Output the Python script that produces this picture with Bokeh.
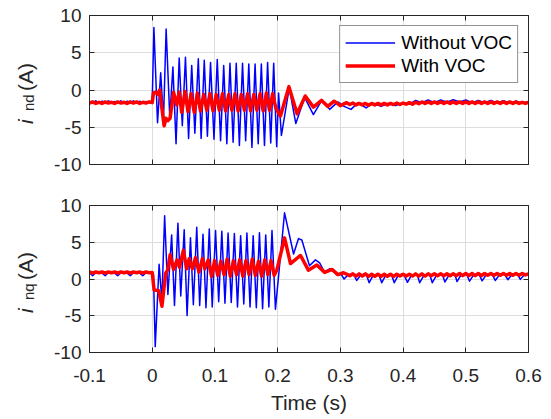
import math
from bokeh.plotting import figure
from bokeh.layouts import column, row
from bokeh.models import FixedTicker, LinearAxis, Range1d, CustomJSTickFormatter
from bokeh.core.properties import value
from bokeh.embed import file_html
from bokeh.resources import INLINE

FONT = "Liberation Sans"
AX = "#262626"
BLUE = "#0000FF"
RED = "#FF0000"
GRID = "#dedede"

# ---------------- data ----------------
series_names = ["Without VOC", "With VOC"]
x_label = "Time (s)"
y_label_main = "i"
y_label_subs = ["nd", "nq"]
y_label_unit = "(A)"
x_ticks = [-0.1, 0, 0.1, 0.2, 0.3, 0.4, 0.5, 0.6]
x_tick_labels = ["-0.1", "0", "0.1", "0.2", "0.3", "0.4", "0.5", "0.6"]
y_ticks = [-10, -5, 0, 5, 10]
y_tick_labels = ["-10", "-5", "0", "5", "10"]

# sampling instants before the event (s)
t_pre = [-0.1, -0.095, -0.09, -0.085, -0.08, -0.075, -0.07, -0.065, -0.06, -0.055,
         -0.05, -0.045, -0.04, -0.035, -0.03, -0.025, -0.02, -0.015, -0.01, -0.005, 0.0]

# i_nd, without VOC
ind_wo_pre = [-1.55, -1.75, -1.45, -1.70, -1.50, -1.80, -1.45, -1.70, -1.55, -1.75,
              -1.45, -1.75, -1.50, -1.70, -1.45, -1.75, -1.50, -1.70, -1.55, -1.70, -1.60]
ind_wo_t = [0.0027, 0.0085, 0.0135, 0.018, 0.0222, 0.028, 0.033, 0.038, 0.043, 0.048,
            0.053, 0.058, 0.063, 0.068, 0.0735, 0.078, 0.083, 0.088, 0.093, 0.0985,
            0.1037, 0.109, 0.114, 0.119, 0.124, 0.129, 0.134, 0.139, 0.144, 0.149,
            0.154, 0.159, 0.164, 0.169, 0.174, 0.179, 0.184, 0.189, 0.1937, 0.1985,
            0.2015, 0.206, 0.2185, 0.229, 0.243, 0.257, 0.271, 0.283, 0.296, 0.306,
            0.317, 0.328, 0.341, 0.352, 0.365, 0.376, 0.388, 0.400, 0.410, 0.420,
            0.430, 0.440, 0.450, 0.460, 0.470, 0.480, 0.490, 0.500, 0.510, 0.520,
            0.530, 0.540, 0.550, 0.560, 0.570, 0.580, 0.590, 0.600]
ind_wo_y = [8.4, -4.4, 2.3, -4.0, 8.2, -3.7, 3.1, -7.2, 4.3, -4.8,
            4.4, -6.5, 3.3, -5.8, 4.2, -6.5, 4.0, -6.2, 3.7, -6.6,
            4.1, -6.8, 3.3, -7.2, 3.6, -7.0, 3.6, -7.45, 3.6, -6.8,
            3.5, -7.7, 3.5, -7.2, 3.5, -7.45, 3.7, -7.1, 3.6, -7.6,
            -0.4, -6.1, 0.3, -4.5, -1.0, -3.3, -1.3, -2.6, -1.6, -2.2,
            -2.6, -1.7, -2.4, -1.8, -2.2, -1.8, -2.1, -1.7, -1.9, -1.4,
            -1.7, -1.35, -1.7, -1.35, -1.65, -1.3, -1.6, -1.35, -1.7, -1.4,
            -1.7, -1.4, -1.75, -1.45, -1.75, -1.5, -1.75, -1.55]

# i_nd, with VOC
ind_w_pre = [-1.75, -1.6, -1.8, -1.65, -1.8, -1.6, -1.75, -1.65, -1.8, -1.6,
             -1.75, -1.65, -1.8, -1.6, -1.75, -1.6, -1.8, -1.65, -1.75, -1.6, -1.7]
ind_w_t = [0.002, 0.006, 0.009, 0.012, 0.0155, 0.019, 0.022, 0.025, 0.0285, 0.034,
           0.039, 0.043, 0.047, 0.0524, 0.057, 0.062, 0.067, 0.072, 0.077, 0.082,
           0.087, 0.092, 0.097, 0.102, 0.107, 0.112, 0.117, 0.122, 0.127, 0.132,
           0.137, 0.142, 0.147, 0.152, 0.157, 0.162, 0.167, 0.172, 0.177, 0.182,
           0.187, 0.192, 0.197, 0.2045, 0.218, 0.231, 0.244, 0.257, 0.27, 0.28,
           0.29, 0.30, 0.31]
ind_w_y = [-0.4, -0.3, -0.6, 0.0, -2.5, -4.8, -3.8, -4.1, -3.8, -0.3,
           -2.0, -0.3, -3.0, -0.2, -2.9, -0.5, -3.0, -0.4, -2.8, -0.6,
           -2.7, -0.5, -2.8, -0.6, -2.7, -0.5, -2.8, -0.6, -2.7, -0.5,
           -2.8, -0.6, -2.7, -0.5, -2.8, -0.6, -2.7, -0.5, -2.8, -0.4,
           -2.7, -0.5, -2.4, -3.5, 0.45, -3.2, -0.8, -2.3, -1.4, -2.2,
           -1.5, -2.1, -1.7]

# sampling instants of the settled tail (s)
t_tail = [0.315, 0.32, 0.325, 0.33, 0.335, 0.34, 0.345, 0.35, 0.355, 0.36,
          0.365, 0.37, 0.375, 0.38, 0.385, 0.39, 0.395, 0.4,
          0.405, 0.41, 0.415, 0.42, 0.425, 0.43, 0.435, 0.44, 0.445, 0.45,
          0.455, 0.46, 0.465, 0.47, 0.475, 0.48, 0.485, 0.49, 0.495, 0.5,
          0.505, 0.51, 0.515, 0.52, 0.525, 0.53, 0.535, 0.54, 0.545, 0.55,
          0.555, 0.56, 0.565, 0.57, 0.575, 0.58, 0.585, 0.59, 0.595, 0.6]
ind_w_tail = [-1.95, -1.75, -2.0, -1.8, -2.0, -1.8, -2.05, -1.8, -2.0, -1.8,
              -2.0, -1.8, -2.0, -1.8, -1.95, -1.75, -1.95, -1.75,
              -1.9, -1.7, -1.9, -1.65, -1.85, -1.6, -1.8, -1.6, -1.8, -1.6,
              -1.8, -1.6, -1.8, -1.6, -1.8, -1.6, -1.8, -1.6, -1.8, -1.6,
              -1.8, -1.6, -1.8, -1.6, -1.8, -1.6, -1.8, -1.6, -1.8, -1.6,
              -1.8, -1.6, -1.8, -1.6, -1.8, -1.6, -1.8, -1.65, -1.8, -1.65]

# i_nq, without VOC
inq_wo_pre = [0.85, 0.45, 0.85, 0.9, 0.8, 0.45, 0.85, 0.9, 0.8, 0.45,
              0.85, 0.9, 0.8, 0.45, 0.85, 0.9, 0.8, 0.45, 0.85, 0.9, 0.9]
inq_wo_t = [0.002, 0.0048, 0.011, 0.0154, 0.0198, 0.025, 0.031, 0.0355, 0.041, 0.0455,
            0.051, 0.0556, 0.061, 0.0656, 0.071, 0.0757, 0.081, 0.0857, 0.091, 0.0957,
            0.101, 0.106, 0.111, 0.116, 0.121, 0.126, 0.131, 0.136, 0.141, 0.146,
            0.151, 0.156, 0.161, 0.166, 0.171, 0.176, 0.181, 0.186, 0.191, 0.1965,
            0.211, 0.2254, 0.2333, 0.2386, 0.2508, 0.2603, 0.267, 0.2746, 0.2835, 0.2957,
            0.300, 0.306,
            0.312, 0.318, 0.322, 0.326, 0.332, 0.338, 0.342, 0.346, 0.352, 0.358,
            0.362, 0.366, 0.372, 0.378, 0.382, 0.386, 0.392, 0.398, 0.402, 0.407,
            0.413, 0.419, 0.423, 0.4265, 0.433, 0.439, 0.443, 0.4466, 0.453, 0.459,
            0.463, 0.4667, 0.473, 0.479, 0.483, 0.486, 0.492, 0.498, 0.502, 0.506,
            0.512, 0.518, 0.522, 0.526, 0.532, 0.538, 0.543, 0.547, 0.553, 0.559,
            0.563, 0.567, 0.573, 0.579, 0.583, 0.587, 0.593, 0.6]
inq_wo_y = [0.6, -9.2, 2.0, -3.0, 8.6, -2.1, 6.0, -3.6, 7.6, -2.3,
            6.7, -4.95, 5.6, -3.5, 7.05, -3.6, 6.1, -3.9, 6.8, -3.8,
            6.6, -3.1, 6.5, -3.3, 6.25, -3.2, 6.2, -3.8, 5.9, -3.4,
            6.25, -3.8, 5.9, -3.9, 6.3, -4.05, 6.0, -3.8, 6.6, -4.1,
            9.0, 3.4, 5.5, 5.3, 1.8, 2.6, 2.2, 0.95, 1.4, 0.5,
            0.8, 0.0,
            0.55, 0.7, 0.5, -0.2, 0.5, 0.7, 0.45, -0.5, 0.45, 0.65,
            0.45, -0.5, 0.45, 0.65, 0.45, -0.5, 0.45, 0.65, 0.45, -0.45,
            0.45, 0.65, 0.45, -0.5, 0.45, 0.65, 0.45, -0.5, 0.45, 0.65,
            0.5, -0.4, 0.5, 0.65, 0.5, -0.35, 0.5, 0.65, 0.5, -0.3,
            0.5, 0.7, 0.5, -0.25, 0.5, 0.7, 0.5, -0.2, 0.5, 0.7,
            0.5, -0.1, 0.55, 0.7, 0.55, -0.05, 0.55, 0.7]

# i_nq, with VOC
inq_w_pre = [0.95, 0.8, 0.95, 0.85, 0.95, 0.8, 0.95, 0.85, 0.95, 0.8,
             0.95, 0.85, 0.95, 0.8, 0.95, 0.85, 0.95, 0.8, 0.95, 0.85, 0.9]
inq_w_t = [0.003, 0.0105, 0.0155, 0.0215, 0.0245, 0.0286, 0.034, 0.0397, 0.0434, 0.0497,
           0.055, 0.059, 0.064, 0.069, 0.0746, 0.08, 0.084, 0.0894, 0.0947, 0.0995,
           0.1045, 0.1095, 0.1145, 0.1195, 0.1245, 0.1295, 0.1345, 0.1395, 0.1445, 0.1495,
           0.1545, 0.1595, 0.1645, 0.1695, 0.1745, 0.1795, 0.1845, 0.1895, 0.1945, 0.199,
           0.211, 0.2205, 0.2365, 0.249, 0.2625, 0.275, 0.287, 0.296, 0.305]
inq_w_y = [-1.5, -1.6, -3.7, 0.8, 1.2, 3.3, 1.3, 2.6, 1.6, 3.9,
           1.4, 2.75, 1.4, 2.9, 0.95, 2.75, 1.4, 2.6, 0.35, 2.5,
           0.5, 2.4, 0.6, 2.7, 0.4, 2.5, 0.6, 2.6, 0.4, 2.5,
           0.6, 2.7, 0.5, 2.4, 0.4, 2.6, 0.6, 2.5, 0.5, 1.3,
           5.6, 2.1, 3.2, 1.2, 1.9, 0.9, 1.3, 0.6, 0.85]
inq_w_tail = [0.45, 0.7, 0.4, 0.7, 0.4, 0.7, 0.35, 0.65, 0.35, 0.65,
              0.35, 0.65, 0.35, 0.65, 0.35, 0.65, 0.4, 0.65,
              0.4, 0.65, 0.4, 0.7, 0.4, 0.7, 0.4, 0.7, 0.45, 0.7,
              0.45, 0.7, 0.45, 0.7, 0.45, 0.7, 0.45, 0.75, 0.45, 0.75,
              0.45, 0.75, 0.45, 0.75, 0.45, 0.75, 0.5, 0.75, 0.5, 0.75,
              0.5, 0.75, 0.5, 0.75, 0.5, 0.75, 0.5, 0.75, 0.55, 0.7]

# ---------------- layout ----------------
W, H = 551, 419
LABEL_W = 48
FRAME_W = 439
X0, X1 = -0.1, 0.6


def style_axis(ax, ticks, labels, show_labels, standoff):
    ax.ticker = FixedTicker(ticks=ticks)
    if show_labels:
        ax.major_label_overrides = dict(zip(ticks, labels))
    else:
        ax.formatter = CustomJSTickFormatter(code="return ''")
    ax.major_label_text_font = FONT
    ax.major_label_text_font_size = "19px"
    ax.major_label_text_color = AX
    ax.major_label_standoff = standoff
    ax.major_tick_in = 5
    ax.major_tick_out = 0
    ax.major_tick_line_color = AX
    ax.minor_tick_line_color = None
    ax.axis_line_color = AX
    ax.axis_line_width = 1


def make_fig(frame_h, top, bottom, show_x_labels):
    p = figure(frame_width=FRAME_W, frame_height=frame_h,
               x_range=Range1d(X0, X1), y_range=Range1d(-10, 10),
               output_backend="svg", toolbar_location=None,
               min_border_left=89 - LABEL_W, min_border_right=23,
               min_border_top=top, min_border_bottom=bottom,
               background_fill_color="white", border_fill_color="white",
               outline_line_color=None)
    bx = p.below[0]
    ly = p.left[0]
    style_axis(bx, x_ticks, x_tick_labels, show_x_labels, 16)
    style_axis(ly, y_ticks, y_tick_labels, True, 8)
    ra = LinearAxis()
    style_axis(ra, y_ticks, y_tick_labels, False, 0)
    p.add_layout(ra, "right")
    ta = LinearAxis()
    style_axis(ta, x_ticks, x_tick_labels, False, 0)
    p.add_layout(ta, "above")
    p.xgrid.ticker = FixedTicker(ticks=x_ticks)
    p.ygrid.ticker = FixedTicker(ticks=y_ticks)
    p.xgrid.grid_line_color = GRID
    p.ygrid.grid_line_color = GRID
    return p, bx


# top panel
p1, _ = make_fig(149, 15, 20, False)
p1.line(t_pre + ind_wo_t, ind_wo_pre + ind_wo_y, line_color=BLUE, line_width=1.5,
        line_join="round", legend_label=series_names[0])
p1.line(t_pre + ind_w_t + t_tail, ind_w_pre + ind_w_y + ind_w_tail, line_color=RED,
        line_width=3.5, line_join="round", legend_label=series_names[1])
lg = p1.legend[0]
lg.location = "top_right"
lg.margin = 10
lg.padding = 5
lg.spacing = 0
lg.label_height = 23
lg.glyph_height = 23
lg.glyph_width = 50
lg.label_standoff = 6
lg.label_text_font = FONT
lg.label_text_font_size = "19px"
lg.label_text_color = "#000000"
lg.border_line_color = AX
lg.border_line_width = 1
lg.background_fill_color = "white"
lg.background_fill_alpha = 1

# bottom panel
p2, bx2 = make_fig(147, 21, 67, True)
p2.line(t_pre + inq_wo_t, inq_wo_pre + inq_wo_y, line_color=BLUE, line_width=1.5,
        line_join="round")
p2.line(t_pre + inq_w_t + t_tail, inq_w_pre + inq_w_y + inq_w_tail, line_color=RED,
        line_width=3.5, line_join="round")
bx2.axis_label = x_label
bx2.axis_label_text_font = FONT
bx2.axis_label_text_font_size = "21px"
bx2.axis_label_text_font_style = "normal"
bx2.axis_label_text_color = AX
bx2.axis_label_standoff = 6

# y-axis titles (i italic + subscript + unit), drawn in a narrow strip left of the panels
lab = figure(frame_width=LABEL_W, frame_height=H, x_range=Range1d(0, LABEL_W),
             y_range=Range1d(0, H), output_backend="svg", toolbar_location=None,
             x_axis_type=None, y_axis_type=None, min_border=0,
             background_fill_color="white", border_fill_color="white",
             outline_line_color=None)
lab.xgrid.visible = False
lab.ygrid.visible = False
centers = [89.5, 278.5]  # vertical centres of the two panels (px from top)
for c, sub in zip(centers, y_label_subs):
    lab.text(x=[25], y=[H - (c + 34)], text=[y_label_main], angle=math.pi / 2,
             text_font=value(FONT), text_font_size="21px", text_font_style="italic",
             text_color=AX, text_baseline="alphabetic", text_align="left")
    lab.text(x=[28], y=[H - (c + 21)], text=[sub], angle=math.pi / 2,
             text_font=value(FONT), text_font_size="15px",
             text_color=AX, text_baseline="alphabetic", text_align="left")
    lab.text(x=[25], y=[H - (c + 1)], text=[y_label_unit], angle=math.pi / 2,
             text_font=value(FONT), text_font_size="21px",
             text_color=AX, text_baseline="alphabetic", text_align="left")

layout = row(lab, column(p1, p2, spacing=0), spacing=0)
open("out.html", "w").write(file_html(layout, INLINE))
